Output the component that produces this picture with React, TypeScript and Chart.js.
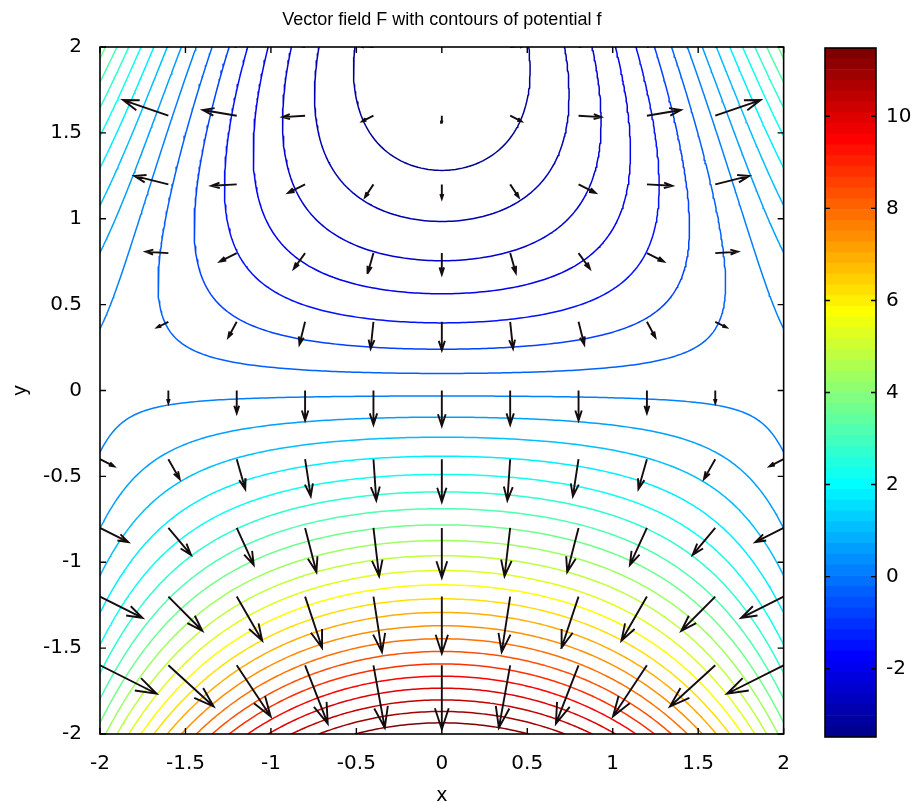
import React, { useEffect, useRef } from 'react';
import { Chart, registerables } from 'chart.js';

Chart.register(...registerables);

// ---------- data ----------
const xTicks = [-2, -1.5, -1, -0.5, 0, 0.5, 1, 1.5, 2];
const yTicks = [-2, -1.5, -1, -0.5, 0, 0.5, 1, 1.5, 2];
const colorbarTicks = [-2, 0, 2, 4, 6, 8, 10];
// 30 contour levels between the potential's minimum (-4) and maximum (12)
const contourLevels = [
  -3.48387, -2.96774, -2.45161, -1.93548, -1.41935, -0.90323, -0.3871, 0.12903,
  0.64516, 1.16129, 1.67742, 2.19355, 2.70968, 3.22581, 3.74194, 4.25806,
  4.77419, 5.29032, 5.80645, 6.32258, 6.83871, 7.35484, 7.87097, 8.3871,
  8.90323, 9.41935, 9.93548, 10.45161, 10.96774, 11.48387,
];
const colorbarRange = [-3.48387, 11.48387];
const arrowX = [-2, -1.6, -1.2, -0.8, -0.4, 0, 0.4, 0.8, 1.2, 1.6, 2];
const arrowY = [-2, -1.6, -1.2, -0.8, -0.4, 0, 0.4, 0.8, 1.2, 1.6, 2];
const domain = [-2, 2];

// potential f(x,y) = x^2*y + y^2 - 4y, and the vector field F = grad f
const potential = (x: number, y: number) => x * x * y + y * y - 4 * y;
const field = (x: number, y: number) => [2 * x * y, x * x + 2 * y - 4];

const FONT = "'DejaVu Sans', 'Liberation Sans', Arial, sans-serif";
const TITLE_FONT = "'Liberation Sans', Arial, sans-serif";
const TITLE = 'Vector field F with contours of potential f';

// ---------- helpers ----------
function jet(n: number): string[] {
  const m = Math.ceil(n / 4);
  const u: number[] = [];
  for (let i = 1; i <= m; i++) u.push(i / m);
  for (let i = 1; i < m; i++) u.push(1);
  for (let i = m; i >= 1; i--) u.push(i / m);
  const base = Math.ceil(m / 2) - (n % 4 === 1 ? 1 : 0);
  const R = new Array(n).fill(0);
  const G = new Array(n).fill(0);
  const B = new Array(n).fill(0);
  for (let k = 0; k < u.length; k++) {
    const g = base + k + 1;
    const r = g + m;
    const b = g - m;
    if (g >= 1 && g <= n) G[g - 1] = u[k];
    if (r >= 1 && r <= n) R[r - 1] = u[k];
    if (b >= 1 && b <= n) B[b - 1] = u[k];
  }
  return R.map(
    (_, i) =>
      `rgb(${Math.round(R[i] * 255)},${Math.round(G[i] * 255)},${Math.round(B[i] * 255)})`
  );
}
const JET = jet(64);
const colorFor = (v: number) => {
  const [cmin, cmax] = colorbarRange;
  const idx = Math.min(63, Math.max(0, Math.floor(((v - cmin) / (cmax - cmin)) * 64 + 1e-9)));
  return JET[idx];
};

function traceLevel(xs: number[], ys: number[], Z: number[][], level: number) {
  const pts = new Map<string, { x: number; y: number }>();
  const segs: [string, string][] = [];
  const pt = (key: string, xa: number, ya: number, va: number, xb: number, yb: number, vb: number) => {
    if (!pts.has(key)) {
      const t = (level - va) / (vb - va);
      pts.set(key, { x: xa + t * (xb - xa), y: ya + t * (yb - ya) });
    }
    return key;
  };
  for (let j = 0; j < ys.length - 1; j++) {
    for (let i = 0; i < xs.length - 1; i++) {
      const x0 = xs[i], x1 = xs[i + 1], y0 = ys[j], y1 = ys[j + 1];
      const a = Z[j][i], b = Z[j][i + 1], c = Z[j + 1][i + 1], d = Z[j + 1][i];
      const sa = a >= level, sb = b >= level, sc = c >= level, sd = d >= level;
      const bottom = sa !== sb ? pt(`h${j}_${i}`, x0, y0, a, x1, y0, b) : null;
      const right = sb !== sc ? pt(`v${j}_${i + 1}`, x1, y0, b, x1, y1, c) : null;
      const top = sd !== sc ? pt(`h${j + 1}_${i}`, x0, y1, d, x1, y1, c) : null;
      const left = sa !== sd ? pt(`v${j}_${i}`, x0, y0, a, x0, y1, d) : null;
      const list = [bottom, right, top, left].filter((k) => k !== null) as string[];
      if (list.length === 2) segs.push([list[0], list[1]]);
      else if (list.length === 4) {
        const center = (a + b + c + d) / 4 >= level;
        if (center === sa) {
          segs.push([bottom as string, right as string]);
          segs.push([top as string, left as string]);
        } else {
          segs.push([left as string, bottom as string]);
          segs.push([right as string, top as string]);
        }
      }
    }
  }
  const adj = new Map<string, number[]>();
  segs.forEach(([p, q], k) => {
    if (!adj.has(p)) adj.set(p, []);
    if (!adj.has(q)) adj.set(q, []);
    adj.get(p)!.push(k);
    adj.get(q)!.push(k);
  });
  const used = new Array(segs.length).fill(false);
  const walk = (start: string) => {
    const line = [start];
    let cur = start;
    for (;;) {
      const next = (adj.get(cur) || []).find((k) => !used[k]);
      if (next === undefined) break;
      used[next] = true;
      const [p, q] = segs[next];
      cur = p === cur ? q : p;
      line.push(cur);
    }
    return line;
  };
  const lines: string[][] = [];
  adj.forEach((list, key) => {
    if (list.length === 1 && !used[list[0]]) lines.push(walk(key));
  });
  for (let k = 0; k < segs.length; k++) if (!used[k]) lines.push(walk(segs[k][0]));

  const data: any[] = [];
  for (const line of lines) {
    let last: any = null;
    for (const key of line) {
      last = pts.get(key);
      data.push({ x: last.x, y: last.y });
    }
    if (last) data.push({ x: last.x, y: null });
  }
  return data;
}

function buildContours() {
  const N = 200;
  const xs: number[] = [];
  const ys: number[] = [];
  for (let i = 0; i <= N; i++) {
    xs.push(domain[0] + (i * (domain[1] - domain[0])) / N);
    ys.push(domain[0] + (i * (domain[1] - domain[0])) / N);
  }
  const Z = ys.map((y) => xs.map((x) => potential(x, y)));
  return contourLevels.map((lvl) => ({ level: lvl, data: traceLevel(xs, ys, Z, lvl) }));
}

function buildArrows() {
  // MATLAB quiver autoscaling (scale factor 0.9)
  const vec = arrowY.flatMap((y) => arrowX.map((x) => ({ x, y, uv: field(x, y) })));
  const delx = (Math.max(...arrowX) - Math.min(...arrowX)) / arrowX.length;
  const dely = (Math.max(...arrowY) - Math.min(...arrowY)) / arrowY.length;
  const del = delx * delx + dely * dely;
  const maxlen = Math.max(...vec.map((v) => Math.sqrt((v.uv[0] ** 2 + v.uv[1] ** 2) / del)));
  const s = 0.9 / maxlen;
  const alpha = 0.33;
  const beta = 0.33;
  const data: any[] = [];
  for (const v of vec) {
    const u = v.uv[0] * s;
    const w = v.uv[1] * s;
    if (Math.hypot(u, w) < 1e-9) continue;
    const tx = v.x + u;
    const ty = v.y + w;
    data.push({ x: v.x, y: v.y }, { x: tx, y: ty }, { x: tx, y: null });
    data.push(
      { x: tx - alpha * (u + beta * w), y: ty - alpha * (w - beta * u) },
      { x: tx, y: ty },
      { x: tx - alpha * (u - beta * w), y: ty - alpha * (w + beta * u) },
      { x: tx, y: null }
    );
  }
  return data;
}

const framePlugin = {
  id: 'frame',
  afterDatasetsDraw(chart: any) {
    const { ctx, chartArea: a, scales } = chart;
    ctx.save();
    ctx.strokeStyle = '#000';
    ctx.lineWidth = 1.6;
    ctx.strokeRect(a.left, a.top, a.right - a.left, a.bottom - a.top);
    ctx.lineWidth = 1.4;
    ctx.beginPath();
    const L = 6;
    for (const v of xTicks) {
      const px = scales.x.getPixelForValue(v);
      ctx.moveTo(px, a.bottom);
      ctx.lineTo(px, a.bottom - L);
      ctx.moveTo(px, a.top);
      ctx.lineTo(px, a.top + L);
    }
    for (const v of yTicks) {
      const py = scales.y.getPixelForValue(v);
      ctx.moveTo(a.left, py);
      ctx.lineTo(a.left + L, py);
      ctx.moveTo(a.right, py);
      ctx.lineTo(a.right - L, py);
    }
    ctx.stroke();
    ctx.restore();
  },
};

const cbFramePlugin = {
  id: 'cbframe',
  afterDatasetsDraw(chart: any) {
    const { ctx, chartArea: a, scales } = chart;
    ctx.save();
    ctx.strokeStyle = '#000';
    ctx.lineWidth = 1.6;
    ctx.strokeRect(a.left, a.top, a.right - a.left, a.bottom - a.top);
    ctx.lineWidth = 1.4;
    ctx.beginPath();
    const L = 5;
    for (const v of colorbarTicks) {
      const py = scales.y.getPixelForValue(v);
      ctx.moveTo(a.left, py);
      ctx.lineTo(a.left + L, py);
      ctx.moveTo(a.right, py);
      ctx.lineTo(a.right - L, py);
    }
    ctx.stroke();
    ctx.restore();
  },
};

export default function App() {
  const mainRef = useRef<HTMLCanvasElement>(null);
  const cbRef = useRef<HTMLCanvasElement>(null);

  useEffect(() => {
    document.body.style.margin = '0';
    const contours = buildContours();
    const arrows = buildArrows();

    const datasets: any[] = [
      {
        label: 'F',
        data: arrows,
        borderColor: '#140c0e',
        borderWidth: 1.9,
        pointRadius: 0,
        pointHitRadius: 0,
        tension: 0,
        spanGaps: false,
        clip: 0,
        order: 0,
        borderCapStyle: 'butt',
        borderJoinStyle: 'miter',
      },
      ...contours.map((c) => ({
        label: `f=${c.level}`,
        data: c.data,
        borderColor: colorFor(c.level),
        borderWidth: 1.5,
        pointRadius: 0,
        pointHitRadius: 0,
        tension: 0,
        spanGaps: false,
        clip: 0,
        order: 1,
        borderCapStyle: 'round',
        borderJoinStyle: 'round',
      })),
    ];

    const axisTicks = {
      color: '#000',
      font: { family: FONT, size: 20 },
      padding: 10,
      autoSkip: false,
      maxRotation: 0,
      minRotation: 0,
      callback: (v: any) => String(v),
    };

    const main = new Chart(mainRef.current!, {
      type: 'line',
      data: { datasets },
      options: {
        animation: false,
        responsive: false,
        devicePixelRatio: 1,
        events: [],
        layout: { padding: { left: 0, right: 15, top: 0, bottom: 0 } },
        plugins: {
          legend: { display: false },
          tooltip: { enabled: false },
          title: {
            display: true,
            fullSize: false,
            text: TITLE,
            color: '#000',
            font: { family: TITLE_FONT, size: 18, weight: 'normal', lineHeight: 1.2 },
            padding: { top: 9, bottom: 16.4 },
          },
        },
        scales: {
          x: {
            type: 'linear',
            min: domain[0],
            max: domain[1],
            afterBuildTicks: (s: any) => {
              s.ticks = xTicks.map((v) => ({ value: v }));
            },
            afterFit: (s: any) => {
              s.height = 70;
            },
            grid: { display: false },
            border: { display: false },
            ticks: axisTicks,
            title: {
              display: true,
              text: 'x',
              color: '#000',
              font: { family: FONT, size: 19, lineHeight: 0.8 },
              padding: 0,
            },
          },
          y: {
            type: 'linear',
            min: domain[0],
            max: domain[1],
            afterBuildTicks: (s: any) => {
              s.ticks = yTicks.map((v) => ({ value: v }));
            },
            afterFit: (s: any) => {
              s.width = 100;
            },
            grid: { display: false },
            border: { display: false },
            ticks: axisTicks,
            title: {
              display: true,
              text: 'y',
              color: '#000',
              font: { family: FONT, size: 19, lineHeight: 1.2 },
              padding: { top: 10, bottom: 0 },
            },
          },
        },
      } as any,
      plugins: [framePlugin],
    });

    const [cmin, cmax] = colorbarRange;
    const bands = JET.map((col, i) => ({
      label: `band${i}`,
      data: [[cmin + ((cmax - cmin) * i) / 64, cmin + ((cmax - cmin) * (i + 1)) / 64]],
      backgroundColor: col,
      borderWidth: 0,
      grouped: false,
      barPercentage: 1,
      categoryPercentage: 1,
    }));

    const cb = new Chart(cbRef.current!, {
      type: 'bar',
      data: { labels: ['f'], datasets: bands as any },
      options: {
        animation: false,
        responsive: false,
        devicePixelRatio: 1,
        events: [],
        layout: { padding: { left: 25, right: 0, top: 48, bottom: 67 } },
        plugins: { legend: { display: false }, tooltip: { enabled: false }, title: { display: false } },
        scales: {
          x: { display: false },
          y: {
            type: 'linear',
            position: 'right',
            min: cmin,
            max: cmax,
            afterBuildTicks: (s: any) => {
              s.ticks = colorbarTicks.map((v) => ({ value: v }));
            },
            afterFit: (s: any) => {
              s.width = 39;
            },
            grid: { display: false },
            border: { display: false },
            ticks: { ...axisTicks, padding: 2 },
          },
        },
      } as any,
      plugins: [cbFramePlugin],
    });

    return () => {
      main.destroy();
      cb.destroy();
    };
  }, []);

  return (
    <div style={{ position: 'relative', width: 915, height: 804, overflow: 'hidden', background: '#fff' }}>
      <canvas
        ref={mainRef}
        width={800}
        height={804}
        style={{ position: 'absolute', left: 0, top: 0, width: 800, height: 804 }}
      />
      <canvas
        ref={cbRef}
        width={115}
        height={804}
        style={{ position: 'absolute', left: 800, top: 0, width: 115, height: 804 }}
      />
    </div>
  );
}
